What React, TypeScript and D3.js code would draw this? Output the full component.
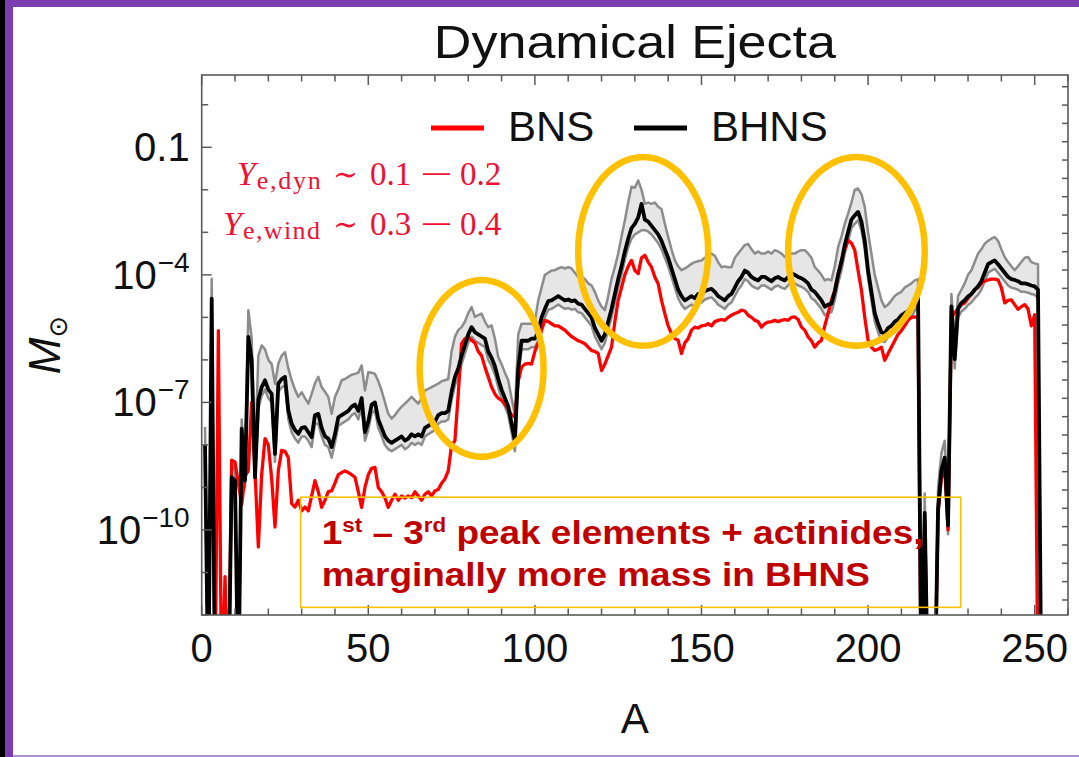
import React from "react";
import * as d3 from "d3";

// Mass number A (x categories)
const massNumbers: number[] = d3.range(1, 253);

// log10 of ejected mass (M_sun) per mass number; -14 = below the plot floor
const bnsLog10: number[] = [
  -14, -14, -14, -14, -5.31, -14, -11.1, -14, -8.36, -8.4,
  -8.9, -9.4, -8.75, -8.6, -7.0, -8.6, -10.4, -8.7, -7.85, -8.0,
  -8.8, -9.93, -8.6, -8.13, -8.15, -8.3, -9.38, -9.46, -9.3, -9.55,
  -9.46, -9.55, -9.2, -8.84, -9.1, -9.47, -9.3, -9.1, -9.08, -8.9,
  -8.7, -8.65, -8.61, -8.65, -8.7, -8.76, -9.1, -9.47, -9.0, -8.7,
  -8.55, -8.53, -9.0, -9.1, -9.25, -9.47, -9.3, -9.16, -9.3, -9.2,
  -9.25, -9.2, -9.24, -9.1, -9.2, -9.3, -9.16, -9.1, -9.2, -9.08,
  -9.05, -8.9, -8.8, -8.61, -8.0, -7.9, -6.8, -5.62, -5.5, -5.46,
  -5.54, -5.6, -5.8, -5.9, -6.17, -6.4, -6.64, -6.8, -6.9, -6.95,
  -7.05, -7.15, -7.3, -7.34, -6.5, -6.17, -6.1, -6.08, -6.1, -5.8,
  -5.6, -5.3, -5.07, -5.1, -5.15, -5.2, -5.2, -5.25, -5.3, -5.38,
  -5.45, -5.5, -5.55, -5.58, -5.62, -5.7, -5.78, -5.8, -5.85, -6.25,
  -6.1, -5.9, -5.7, -5.1, -4.6, -4.3, -4.0, -3.8, -3.66, -3.9,
  -3.97, -3.6, -3.54, -3.7, -3.82, -4.05, -4.21, -4.6, -4.91, -5.2,
  -5.38, -5.5, -5.54, -5.85, -5.6, -5.5, -5.3, -5.23, -5.25, -5.2,
  -5.19, -5.15, -5.2, -5.1, -5.07, -5.05, -5.07, -5.0, -4.95, -4.91,
  -4.88, -4.83, -4.85, -4.95, -5.0, -5.07, -5.1, -5.23, -5.15, -5.11,
  -5.1, -5.07, -5.1, -5.07, -5.05, -5.07, -5.0, -4.99, -5.05, -5.23,
  -5.3, -5.46, -5.55, -5.7, -5.6, -5.54, -5.2, -4.91, -4.6, -4.36,
  -4.0, -3.66, -3.4, -3.19, -3.25, -3.42, -3.9, -4.36, -5.0, -5.54,
  -5.7, -5.78, -5.75, -5.7, -6.01, -5.85, -5.7, -5.55, -5.4, -5.31,
  -5.2, -5.07, -5.0, -4.99, -5.0, -14, -9.8, -14, -14, -14,
  -9.6, -8.8, -8.5, -10.0, -5.0, -4.89, -4.8, -4.7, -4.66, -4.55,
  -4.45, -4.35, -4.3, -4.2, -4.15, -4.12, -4.1, -4.1, -4.12, -4.3,
  -4.66, -4.6, -4.59, -4.7, -4.81, -4.75, -4.7, -4.8, -5.2, -4.94,
  -14, -14,
];

const bhnsLog10: number[] = [
  -8.0, -14, -4.56, -14, -14, -14, -14, -14, -8.76, -8.84,
  -14, -7.62, -8.84, -5.46, -6.0, -8.76, -6.95, -6.64, -6.48, -6.7,
  -6.8, -8.21, -6.56, -6.45, -6.4, -7.19, -7.5, -7.65, -7.74, -7.6,
  -7.58, -7.7, -7.82, -7.3, -7.27, -7.6, -7.8, -7.85, -8.05, -7.75,
  -7.35, -7.3, -7.25, -7.2, -7.1, -7.05, -7.2, -6.9, -7.7, -7.45,
  -7.05, -7.0, -7.4, -7.6, -7.8, -7.9, -7.95, -7.9, -7.85, -7.8,
  -7.9, -7.85, -7.75, -7.8, -7.75, -7.8, -7.6, -7.55, -7.5, -7.45,
  -7.3, -7.25, -7.25, -7.2, -6.75, -6.4, -6.2, -5.9, -5.65, -5.4,
  -5.23, -5.35, -5.4, -5.45, -5.5, -5.8, -5.95, -6.15, -6.45, -6.7,
  -6.9, -7.1, -7.5, -7.9, -6.2, -5.55, -5.55, -5.55, -5.5, -5.5,
  -5.35, -5.0, -4.8, -4.62, -4.6, -4.55, -4.5, -4.55, -4.6, -4.58,
  -4.62, -4.6, -4.68, -4.7, -4.8, -4.9, -5.0, -5.25, -5.4, -5.55,
  -5.4, -5.1, -4.8, -4.45, -4.1, -3.8, -3.45, -3.15, -2.9, -2.8,
  -2.65, -2.33, -2.7, -2.75, -2.85, -2.95, -3.05, -3.2, -3.4, -3.6,
  -3.85, -4.1, -4.35, -4.5, -4.6, -4.55, -4.5, -4.55, -4.45, -4.45,
  -4.38, -4.35, -4.33, -4.4, -4.5, -4.55, -4.6, -4.5, -4.45, -4.3,
  -4.15, -4.05, -3.9, -3.95, -4.05, -4.1, -4.13, -4.05, -4.05, -4.1,
  -4.15, -4.08, -4.05, -4.1, -4.13, -4.05, -3.97, -4.0, -4.05, -4.08,
  -4.13, -4.2, -4.35, -4.4, -4.5, -4.6, -4.75, -4.7, -4.68, -4.4,
  -4.0, -3.7, -3.3, -3.0, -2.7, -2.6, -2.52, -2.75, -3.2, -3.9,
  -4.4, -4.9, -5.15, -5.35, -5.38, -5.25, -5.2, -5.1, -5.05, -4.95,
  -4.9, -4.85, -4.8, -4.65, -4.52, -14, -9.6, -14, -14, -14,
  -9.5, -8.6, -8.3, -9.9, -4.74, -5.98, -4.8, -4.66, -4.6, -4.51,
  -4.45, -4.35, -4.27, -4.15, -3.95, -3.75, -3.7, -3.66, -3.75, -3.85,
  -3.95, -4.05, -4.1, -4.12, -4.15, -4.2, -4.2, -4.22, -4.25, -4.27,
  -4.35, -14,
];

const bhnsUpperLog10: number[] = [
  -7.58, -14, -4.09, -14, -14, -14, -14, -14, -8.6, -8.5,
  -14, -7.4, -8.5, -4.83, -5.5, -8.3, -5.9, -5.66, -5.75, -6.0,
  -6.1, -6.56, -6.09, -5.9, -5.82, -6.2, -6.48, -6.7, -6.87, -6.76,
  -6.9, -7.03, -6.8, -6.55, -6.4, -6.64, -6.75, -6.87, -7.27, -6.87,
  -6.7, -6.48, -6.45, -6.4, -6.35, -6.33, -6.3, -6.13, -6.72, -6.29,
  -6.3, -6.33, -6.5, -6.72, -7.0, -7.27, -7.38, -7.3, -7.19, -7.1,
  -7.03, -6.95, -6.87, -6.95, -7.03, -6.9, -6.72, -6.68, -6.64, -6.6,
  -6.56, -6.5, -6.48, -6.45, -5.8, -5.46, -5.3, -5.23, -5.1, -4.9,
  -4.76, -4.99, -4.95, -4.91, -5.1, -5.23, -5.19, -5.5, -5.93, -6.1,
  -6.3, -6.48, -6.9, -7.27, -5.4, -5.15, -5.15, -5.15, -5.15, -5.1,
  -4.6, -4.3, -4.0, -3.95, -3.9, -3.89, -3.85, -3.82, -3.85, -3.82,
  -3.85, -3.95, -4.05, -4.05, -4.1, -4.2, -4.25, -4.4, -4.6, -4.75,
  -4.83, -4.5, -4.1, -3.82, -3.5, -3.1, -2.72, -2.3, -1.93, -1.95,
  -1.78, -2.0, -2.33, -2.3, -2.33, -2.3, -2.4, -2.45, -2.8, -3.11,
  -3.4, -3.66, -3.8, -3.89, -3.85, -3.8, -3.74, -3.7, -3.68, -3.66,
  -3.6, -3.55, -3.5, -3.55, -3.7, -3.82, -3.8, -3.82, -3.82, -3.6,
  -3.5, -3.4, -3.3, -3.27, -3.4, -3.5, -3.45, -3.5, -3.5, -3.45,
  -3.5, -3.42, -3.45, -3.5, -3.58, -3.5, -3.5, -3.5, -3.45, -3.42,
  -3.42, -3.5, -3.6, -3.82, -3.9, -4.0, -4.13, -4.1, -4.13, -3.8,
  -3.35, -3.1, -2.8, -2.56, -2.3, -2.0, -1.97, -2.1, -2.4, -3.0,
  -3.5, -4.0, -4.3, -4.6, -4.76, -4.7, -4.6, -4.5, -4.44, -4.4,
  -4.3, -4.25, -4.2, -4.13, -4.1, -14, -9.14, -14, -14, -14,
  -9.0, -8.2, -7.9, -9.5, -4.45, -5.5, -4.5, -4.35, -4.2, -4.0,
  -3.89, -3.7, -3.5, -3.4, -3.27, -3.2, -3.15, -3.11, -3.2, -3.4,
  -3.58, -3.7, -3.8, -3.89, -3.8, -3.7, -3.6, -3.58, -3.7, -3.73,
  -3.75, -14,
];

const bhnsLowerLog10: number[] = [
  -8.3, -14, -4.7, -14, -14, -14, -14, -14, -8.9, -9.0,
  -14, -7.8, -9.0, -5.6, -6.2, -8.9, -7.15, -6.85, -6.7, -6.9,
  -7.0, -8.4, -6.75, -6.65, -6.6, -7.4, -7.7, -7.85, -7.95, -7.8,
  -7.8, -7.9, -8.05, -7.5, -7.5, -7.8, -8.0, -8.05, -8.3, -7.95,
  -7.55, -7.5, -7.45, -7.4, -7.3, -7.25, -7.4, -7.1, -7.9, -7.65,
  -7.25, -7.2, -7.6, -7.8, -8.0, -8.1, -8.15, -8.1, -8.05, -8.0,
  -8.1, -8.05, -7.95, -8.0, -7.95, -8.0, -7.8, -7.75, -7.7, -7.65,
  -7.5, -7.45, -7.45, -7.4, -6.95, -6.6, -6.4, -6.1, -5.85, -5.6,
  -5.45, -5.55, -5.6, -5.65, -5.7, -6.0, -6.15, -6.35, -6.65, -6.9,
  -7.1, -7.3, -7.7, -8.15, -6.4, -5.75, -5.75, -5.75, -5.7, -5.7,
  -5.55, -5.2, -5.0, -4.82, -4.8, -4.75, -4.7, -4.75, -4.8, -4.78,
  -4.82, -4.8, -4.88, -4.9, -5.0, -5.1, -5.2, -5.45, -5.6, -5.75,
  -5.6, -5.3, -5.0, -4.65, -4.3, -4.0, -3.65, -3.35, -3.15, -3.05,
  -3.0, -2.95, -2.95, -2.98, -3.05, -3.15, -3.25, -3.4, -3.6, -3.8,
  -4.05, -4.3, -4.55, -4.7, -4.8, -4.75, -4.7, -4.75, -4.65, -4.65,
  -4.58, -4.55, -4.53, -4.6, -4.7, -4.75, -4.8, -4.7, -4.65, -4.5,
  -4.35, -4.25, -4.1, -4.15, -4.25, -4.3, -4.33, -4.25, -4.25, -4.3,
  -4.35, -4.28, -4.25, -4.3, -4.33, -4.25, -4.17, -4.2, -4.25, -4.28,
  -4.33, -4.4, -4.55, -4.6, -4.7, -4.8, -4.95, -4.9, -4.88, -4.6,
  -4.2, -3.9, -3.5, -3.2, -2.9, -2.8, -2.72, -2.95, -3.4, -4.1,
  -4.6, -5.1, -5.35, -5.55, -5.58, -5.45, -5.4, -5.3, -5.25, -5.15,
  -5.1, -5.05, -5.0, -4.85, -4.72, -14, -9.8, -14, -14, -14,
  -9.7, -8.8, -8.5, -10.1, -4.94, -6.2, -5.0, -4.86, -4.8, -4.71,
  -4.65, -4.55, -4.47, -4.35, -4.15, -3.95, -3.9, -3.86, -3.95, -4.05,
  -4.15, -4.25, -4.3, -4.32, -4.35, -4.4, -4.4, -4.42, -4.45, -4.47,
  -4.55, -14,
];

// Axis ticks
const xTickValues: number[] = d3.range(0, 261, 10);
const xTickLabels: number[] = [0, 50, 100, 150, 200, 250];
const yTickExponents: number[] = d3.range(-12, 1);
const yLabelExponents: number[] = [-1, -4, -7, -10];
const rightTickValues: number[] = d3.range(0, 29);

const legendItems = [
  { label: "BNS", color: "#ff0000" },
  { label: "BHNS", color: "#000000" },
];

// Highlight ellipses around the three r-process peaks (data units)
const peakEllipses = [
  { a: 84, logM: -6.2, halfA: 18.6, halfDec: 2.08 },
  { a: 132.5, logM: -3.45, halfA: 19.5, halfDec: 2.22 },
  { a: 196.5, logM: -3.45, halfA: 20.5, halfDec: 2.22 },
];

const yeLabels = [
  { sub: "e,dyn", lo: "0.1", hi: "0.2" },
  { sub: "e,wind", lo: "0.3", hi: "0.4" },
];

const noteBox = { a0: 29.7, a1: 227.8, logTop: -9.23, logBottom: -11.82 };

const SANS = "'Liberation Sans', Arial, sans-serif";
const SERIF = "'Liberation Serif', 'DejaVu Serif', serif";

export default function App() {
  const W = 1079;
  const H = 757;
  const plot = { left: 201.7, right: 1068, top: 75, bottom: 615 };

  const x = d3.scaleLinear().domain([0, 260]).range([plot.left, plot.right]);
  const y = d3
    .scaleLog()
    .domain([1e-12, Math.pow(10, 0.7)])
    .range([plot.bottom, plot.top]);
  const yRight = d3.scaleLinear().domain([-0.64, 28.82]).range([plot.top, plot.bottom]);
  const toY = (v: number) => y(Math.pow(10, v));

  const linePath = (vals: number[]) =>
    d3
      .line<number>()
      .x((_, i) => x(massNumbers[i]))
      .y((d) => toY(d))(vals) ?? "";

  const bandPath =
    d3
      .area<number>()
      .x((a) => x(a))
      .y0((_, i) => toY(bhnsLowerLog10[i]))
      .y1((_, i) => toY(bhnsUpperLog10[i]))(massNumbers) ?? "";

  const purple = "#7c3db1";
  const frameColor = "#5a5a5a";
  const orange = "#ffc000";
  const anRed = "#ee1133";

  const cxPlot = (plot.left + plot.right) / 2;

  // Y_e label layout
  const yeBase = [185, 235];
  const yeStart = [236.7, 223];
  const yeSubLen = [64, 77];

  const bx0 = x(noteBox.a0);
  const bx1 = x(noteBox.a1);
  const by0 = toY(noteBox.logTop);
  const by1 = toY(noteBox.logBottom);

  return (
    <svg
      width={W}
      height={H}
      viewBox={`0 0 ${W} ${H}`}
      style={{ position: "absolute", left: 0, top: 0, display: "block" }}
    >
      <defs>
        <clipPath id="plotClip">
          <rect x={plot.left} y={plot.top} width={plot.right - plot.left} height={plot.bottom - plot.top} />
        </clipPath>
      </defs>

      {/* slide background and frame */}
      <rect x={0} y={0} width={W} height={H} fill="#ffffff" />
      <rect x={0} y={0} width={W} height={7} fill={purple} />
      <rect x={0} y={0} width={13} height={H} fill={purple} />
      <rect x={0} y={0} width={5} height={H} fill="#000000" />
      <rect x={13} y={H - 2} width={W - 13} height={2} fill="#ab8fd6" />

      {/* title */}
      <text
        x={cxPlot}
        y={57.5}
        textAnchor="middle"
        fontFamily={SANS}
        fontSize={47}
        textLength={402}
        lengthAdjust="spacingAndGlyphs"
        fill="#111"
      >
        Dynamical Ejecta
      </text>

      {/* data */}
      <g clipPath="url(#plotClip)">
        <path d={bandPath} fill="#e6e6e6" stroke="none" />
        <path d={linePath(bhnsUpperLog10)} fill="none" stroke="#8c8c8c" strokeWidth={2.5} strokeLinejoin="round" />
        <path d={linePath(bhnsLowerLog10)} fill="none" stroke="#8c8c8c" strokeWidth={2.5} strokeLinejoin="round" />
        <path d={linePath(bnsLog10)} fill="none" stroke="#ff0000" strokeWidth={3.3} strokeLinejoin="round" />
        <path d={linePath(bhnsLog10)} fill="none" stroke="#000000" strokeWidth={3.8} strokeLinejoin="round" />
      </g>

      {/* frame */}
      <rect
        x={plot.left}
        y={plot.top}
        width={plot.right - plot.left}
        height={plot.bottom - plot.top}
        fill="none"
        stroke={frameColor}
        strokeWidth={1.6}
      />

      {/* bottom & top ticks */}
      {xTickValues.map((t) => {
        const len = t % 50 === 0 ? 10 : 6.5;
        const xx = x(t);
        return (
          <g key={`xt${t}`} stroke={frameColor} strokeWidth={1.5}>
            <line x1={xx} x2={xx} y1={plot.bottom} y2={plot.bottom - len} />
            <line x1={xx} x2={xx} y1={plot.top} y2={plot.top + len} />
          </g>
        );
      })}
      {xTickLabels.map((t) => (
        <text key={`xl${t}`} x={x(t)} y={662} textAnchor="middle" fontFamily={SANS} fontSize={40} fill="#111">
          {t}
        </text>
      ))}

      {/* left ticks */}
      {yTickExponents.map((e) => {
        const len = yLabelExponents.includes(e) ? 10 : 6.5;
        const yy = toY(e);
        return (
          <line
            key={`yt${e}`}
            x1={plot.left}
            x2={plot.left + len}
            y1={yy}
            y2={yy}
            stroke={frameColor}
            strokeWidth={1.5}
          />
        );
      })}
      {yLabelExponents.map((e) => (
        <text
          key={`yl${e}`}
          x={plot.left - 12}
          y={toY(e) + 14}
          textAnchor="end"
          fontFamily={SANS}
          fontSize={40}
          fill="#111"
        >
          {e === -1 ? (
            "0.1"
          ) : (
            <>
              10
              <tspan dy={-17} dx={1} fontSize={28}>
                {"\u2212" + Math.abs(e)}
              </tspan>
            </>
          )}
        </text>
      ))}

      {/* right ticks */}
      {rightTickValues.map((t) => {
        const yy = yRight(t);
        return (
          <line
            key={`rt${t}`}
            x1={plot.right}
            x2={plot.right - 6}
            y1={yy}
            y2={yy}
            stroke={frameColor}
            strokeWidth={1.5}
          />
        );
      })}

      {/* axis labels */}
      <text x={cxPlot} y={733} textAnchor="middle" fontFamily={SANS} fontSize={42} fill="#111">
        A
      </text>
      <text
        transform={`translate(60, ${(plot.top + plot.bottom) / 2}) rotate(-90)`}
        textAnchor="middle"
        fontFamily={SANS}
        fontSize={44}
        fill="#111"
      >
        <tspan fontStyle="italic">M</tspan>
        <tspan fontFamily="'DejaVu Sans', sans-serif" fontSize={26} dy={7}>
          {"\u2299"}
        </tspan>
      </text>

      {/* legend */}
      {legendItems.map((it, i) => {
        const x0 = [431, 634][i];
        return (
          <g key={it.label}>
            <line x1={x0} x2={x0 + 53} y1={128} y2={128} stroke={it.color} strokeWidth={5} />
            <text x={x0 + 77} y={141} fontFamily={SANS} fontSize={42} fill="#111">
              {it.label}
            </text>
          </g>
        );
      })}

      {/* Y_e annotations */}
      {yeLabels.map((l, i) => {
        const base = yeBase[i];
        const x0 = yeStart[i];
        return (
          <g key={l.sub} fill={anRed} fontFamily={SERIF}>
            <text x={x0} y={base} fontSize={34} fontStyle="italic">
              Y
            </text>
            <text
              x={x0 + 20}
              y={base + 4}
              fontSize={26}
              textLength={yeSubLen[i]}
              lengthAdjust="spacing"
            >
              {l.sub}
            </text>
            <text
              x={333}
              y={base}
              fontSize={32}
              fontFamily="'DejaVu Serif', serif"
              textLength={25}
              lengthAdjust="spacingAndGlyphs"
            >
              {"\u223C"}
            </text>
            <text x={370} y={base} fontSize={33}>
              {l.lo}
            </text>
            <text x={420} y={base} fontSize={33} textLength={33} lengthAdjust="spacingAndGlyphs">
              {"\u2212"}
            </text>
            <text x={460} y={base} fontSize={33}>
              {l.hi}
            </text>
          </g>
        );
      })}

      {/* note box */}
      <rect x={bx0} y={by0} width={bx1 - bx0} height={by1 - by0} fill="none" stroke={orange} strokeWidth={1.6} />
      <g fill="#c00000" fontFamily={SANS} fontWeight="bold">
        <text transform={`translate(${bx0 + 21}, ${by0 + 46.6}) scale(1.12, 1)`} fontSize={33}>
          1<tspan fontSize={20} dy={-12}>st</tspan>
          <tspan dy={12}> – 3</tspan>
          <tspan fontSize={20} dy={-12}>rd</tspan>
          <tspan dy={12}> peak elements + actinides,</tspan>
        </text>
        <text transform={`translate(${bx0 + 21}, ${by0 + 88.3}) scale(1.12, 1)`} fontSize={33}>
          marginally more mass in BHNS
        </text>
      </g>

      {/* peak ellipses */}
      {peakEllipses.map((p, i) => {
        const cx = x(p.a);
        const cy = toY(p.logM);
        const rx = x(p.a + p.halfA) - cx;
        const ry = toY(p.logM - p.halfDec) - cy;
        return <ellipse key={i} cx={cx} cy={cy} rx={rx} ry={ry} fill="none" stroke={orange} strokeWidth={6.5} />;
      })}
    </svg>
  );
}
